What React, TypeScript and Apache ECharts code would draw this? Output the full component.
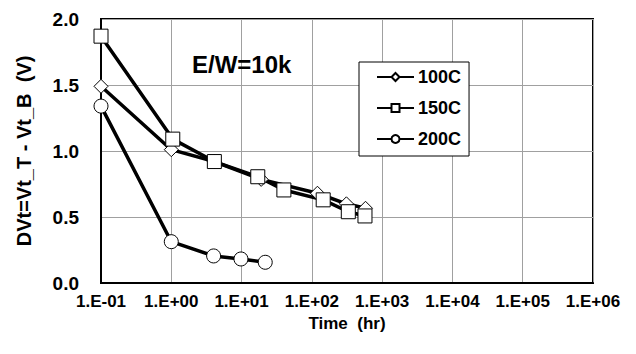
import React, { useEffect, useRef } from "react";
import * as echarts from "echarts";

const seriesNames = ["100C", "150C", "200C"];
const time100 = [0.1, 1, 4.1, 19, 120, 310, 580];
const dv100 = [1.49, 1.01, 0.92, 0.785, 0.68, 0.6, 0.566];
const time150 = [0.1, 1.05, 4.1, 17, 40, 145, 330, 570];
const dv150 = [1.87, 1.09, 0.92, 0.805, 0.705, 0.63, 0.54, 0.508];
const time200 = [0.1, 1, 4, 9.8, 21.7];
const dv200 = [1.34, 0.313, 0.205, 0.182, 0.157];
const annotation = "E/W=10k";

const FONT = "Liberation Sans, Arial, sans-serif";

function fmtX(v: number): string {
  const e = Math.round(Math.log10(v));
  return "1.E" + (e < 0 ? "-" : "+") + String(Math.abs(e)).padStart(2, "0");
}

export default function App() {
  const ref = useRef<HTMLDivElement>(null);
  useEffect(() => {
    if (!ref.current) return;
    const chart = echarts.init(ref.current, undefined, { renderer: "svg" });
    const mk = (name: string, xs: number[], ys: number[], symbol: string, size: number) => ({
      name,
      type: "line",
      data: xs.map((x, i) => [x, ys[i]]),
      symbol,
      symbolSize: size,
      showAllSymbol: true,
      lineStyle: { color: "#000", width: 3.5 },
      itemStyle: { color: "#fff", borderColor: "#000", borderWidth: 1 },
      emphasis: { disabled: true },
      z: 3,
    });
    chart.setOption({
      animation: false,
      backgroundColor: "#fff",
      grid: {
        left: 101,
        top: 19,
        right: 43,
        bottom: 71,
        show: true,
        borderColor: "#000",
        borderWidth: 2,
        backgroundColor: "transparent",
      },
      xAxis: {
        type: "log",
        logBase: 10,
        min: 0.1,
        max: 1e6,
        name: "Time  (hr)",
        nameLocation: "middle",
        nameGap: 26,
        nameTextStyle: { fontFamily: FONT, fontWeight: "bold", fontSize: 17, color: "#000" },
        axisLine: { show: true, lineStyle: { color: "#000", width: 2 } },
        axisTick: { show: false },
        splitLine: { show: true, lineStyle: { color: "#a0a0a0", width: 1 } },
        minorSplitLine: { show: false },
        axisLabel: {
          formatter: (v: number) => fmtX(v),
          fontFamily: FONT,
          fontWeight: "bold",
          fontSize: 17,
          color: "#000",
          margin: 10,
          showMinLabel: true,
          showMaxLabel: true,
        },
      },
      yAxis: {
        type: "value",
        min: 0,
        max: 2,
        interval: 0.5,
        name: "DVt=Vt_T - Vt_B  (V)",
        nameLocation: "middle",
        nameRotate: 90,
        nameGap: 67,
        nameTextStyle: { fontFamily: FONT, fontWeight: "bold", fontSize: 20, color: "#000" },
        axisLine: { show: true, lineStyle: { color: "#000", width: 2 } },
        axisTick: { show: false },
        splitLine: { show: true, lineStyle: { color: "#a0a0a0", width: 1 } },
        axisLabel: {
          formatter: (v: number) => v.toFixed(1),
          fontFamily: FONT,
          fontWeight: "bold",
          fontSize: 19,
          color: "#000",
          margin: 22,
        },
      },
      legend: {
        data: seriesNames,
        orient: "vertical",
        left: 359,
        top: 62,
        width: 119,
        padding: [6, 8, 8, 17],
        itemGap: 13,
        itemWidth: 37,
        itemHeight: 10,
        backgroundColor: "#fff",
        borderColor: "#000",
        borderWidth: 1,
        textStyle: { fontFamily: FONT, fontWeight: "bold", fontSize: 18, color: "#000", padding: [0, 0, 0, -1] },
      },
      graphic: [
        {
          type: "text",
          left: 192,
          top: 52,
          style: { text: annotation, font: "bold 24px " + FONT, fill: "#000" },
          z: 10,
        },
      ],
      series: [
        mk(seriesNames[0], time100, dv100, "diamond", 14),
        mk(seriesNames[1], time150, dv150, "rect", 14),
        mk(seriesNames[2], time200, dv200, "circle", 14),
      ],
    });
    return () => chart.dispose();
  }, []);
  return <div ref={ref} style={{ width: 636, height: 354, position: "absolute", left: 0, top: 0 }} />;
}
